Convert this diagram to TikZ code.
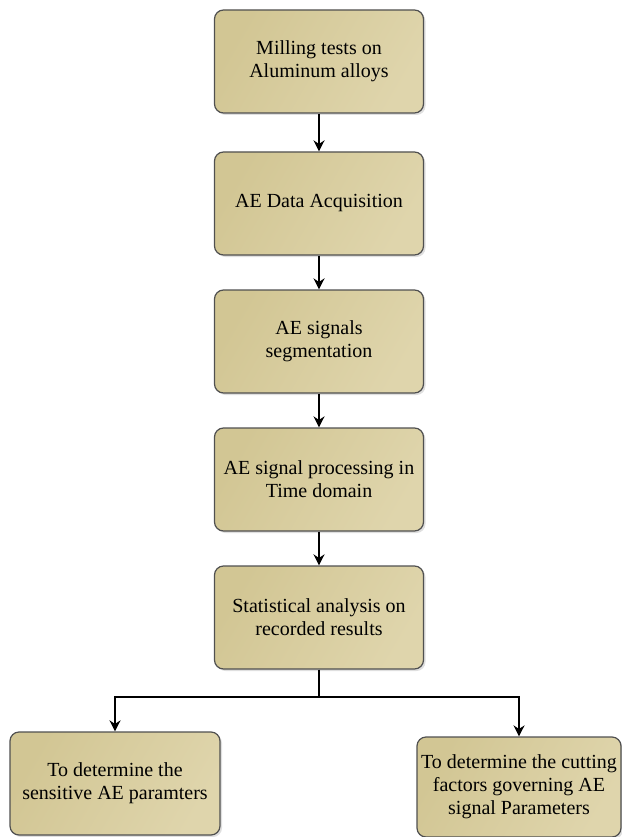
\documentclass[tikz,border=0pt]{standalone}
\usepackage{fontspec}
\setmainfont{Liberation Serif}
\usetikzlibrary{arrows.meta,shadows}
\definecolor{tanA}{RGB}{210,198,148}
\definecolor{tanB}{RGB}{223,213,172}
\definecolor{edge}{RGB}{80,80,80}
\begin{document}
\begin{tikzpicture}[x=1pt, y=-1pt, >={Stealth[length=11pt,width=11pt]},
  box/.style={draw=edge, line width=1.2pt, rounded corners=9pt,
    left color=tanA, right color=tanB, shading angle=60,
    drop shadow={shadow xshift=2pt, shadow yshift=-2pt, opacity=0.25},
    align=center, font=\fontsize{20}{23}\selectfont,
    minimum width=209pt, minimum height=103pt, inner sep=0pt},
  line/.style={line width=2pt}]

  \useasboundingbox (0,0) rectangle (621,837);

  \node[box] (a) at (319, 61.5) {Milling tests on\\Aluminum alloys};
  \node[box] (b) at (319, 203.5) {AE Data Acquisition};
  \node[box] (c) at (319, 341.5) {AE signals\\segmentation};
  \node[box] (d) at (319, 479.5) {AE signal processing in\\Time domain};
  \node[box] (e) at (319, 617.5) {Statistical analysis on\\recorded results};
  \node[box, minimum width=210pt] (f) at (115, 783.5) {To determine the\\sensitive AE paramters};
  \node[box, minimum width=204pt, minimum height=100pt] (g) at (519, 787) {To determine the cutting\\factors governing AE\\signal Parameters};
  \coordinate (s) at (319, 697);

  \draw [line, ->] (a) -- (b);
  \draw [line, ->] (b) -- (c);
  \draw [line, ->] (c) -- (d);
  \draw [line, ->] (d) -- (e);
  \draw [line] (e) -- (s);
  \draw [line, ->] (s) -| (f);
  \draw [line, ->] (s) -| (g);

\end{tikzpicture}
\end{document}
